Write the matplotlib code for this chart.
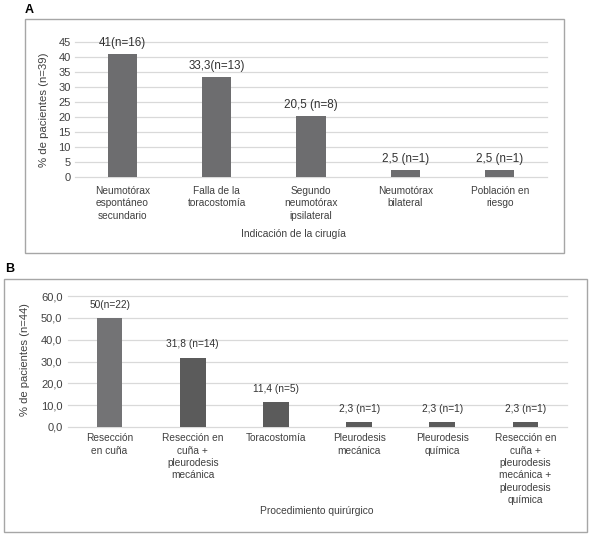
import matplotlib
matplotlib.use("Agg")
import matplotlib.pyplot as plt
from matplotlib.patches import Rectangle

plt.rcParams['font.family'] = ['Liberation Sans', 'DejaVu Sans']

# datos panel A
cats_a = ["Neumotórax\nespontáneo\nsecundario", "Falla de la\ntoracostomía",
          "Segundo\nneumotórax\nipsilateral", "Neumotórax\nbilateral",
          "Población en\nriesgo"]
vals_a = [41, 33.3, 20.5, 2.5, 2.5]
labels_a = ["41(n=16)", "33,3(n=13)", "20,5 (n=8)", "2,5 (n=1)", "2,5 (n=1)"]
yticks_a = [0, 5, 10, 15, 20, 25, 30, 35, 40, 45]

# datos panel B
cats_b = ["Resección\nen cuña", "Resección en\ncuña +\npleurodesis\nmecánica",
          "Toracostomía", "Pleurodesis\nmecánica", "Pleurodesis\nquímica",
          "Resección en\ncuña +\npleurodesis\nmecánica +\npleurodesis\nquímica"]
vals_b = [50, 31.8, 11.4, 2.3, 2.3, 2.3]
labels_b = ["50(n=22)", "31,8 (n=14)", "11,4 (n=5)", "2,3 (n=1)", "2,3 (n=1)", "2,3 (n=1)"]
yticks_b = [0, 10, 20, 30, 40, 50, 60]

W, H = 589, 535
fig = plt.figure(figsize=(W / 100, H / 100), dpi=100)
txt = '#404040'


def px_axes(x0, x1, ytop, ybot):
    return fig.add_axes([x0 / W, (H - ybot) / H, (x1 - x0) / W, (ybot - ytop) / H])


def box(x0, y0, x1, y1):
    fig.patches.append(Rectangle((x0 / W, (H - y1) / H), (x1 - x0) / W, (y1 - y0) / H,
                                 transform=fig.transFigure, fill=False,
                                 edgecolor='#a6a6a6', linewidth=1.0))


def style(ax, cats, yticks, ylab_fmt, xpad, ypad):
    n = len(cats)
    ax.set_xlim(-0.5, n - 0.5)
    ax.set_ylim(yticks[0], yticks[-1])
    ax.set_yticks(yticks)
    ax.set_yticklabels([ylab_fmt(v) for v in yticks], fontsize=8, color=txt)
    ax.set_xticks(range(n))
    ax.set_xticklabels(cats, fontsize=7.3, color=txt, va='top', linespacing=1.3)
    ax.tick_params(axis='x', length=0, pad=xpad)
    ax.tick_params(axis='y', length=0, pad=ypad)
    for s in ax.spines.values():
        s.set_visible(False)
    ax.set_axisbelow(True)
    for v in yticks:
        ax.axhline(v, color='#d9d9d9', linewidth=0.9, zorder=0, clip_on=False)


# ---- panel A
box(25, 19, 564, 253)
fig.text(25 / W, (H - 10) / H, "A", fontsize=9, fontweight='bold', va='center', ha='left')
ax1 = px_axes(75, 547, 42, 177)
ax1.bar(range(len(vals_a)), vals_a, width=0.31, color='#6d6d6f', zorder=2)
style(ax1, cats_a, yticks_a, lambda v: str(v), 6.5, 3)
for i, (v, l) in enumerate(zip(vals_a, labels_a)):
    ax1.annotate(l, (i, v), xytext=(0, 3.5), textcoords='offset points',
                 ha='center', va='bottom', fontsize=8.4, color='#333333')
fig.text(44 / W, (H - 110) / H, "% de pacientes (n=39)", rotation=90, fontsize=8.2,
         color=txt, ha='center', va='center')
fig.text(293 / W, (H - 234) / H, "Indicación de la cirugía", fontsize=7.4,
         color=txt, ha='center', va='center')

# ---- panel B
box(4, 279, 587, 532)
fig.text(5 / W, (H - 269) / H, "B", fontsize=9, fontweight='bold', va='center', ha='left')
ax2 = px_axes(68, 567, 296, 427)
cols_b = ['#737375'] + ['#5b5b5b'] * (len(vals_b) - 1)
ax2.bar(range(len(vals_b)), vals_b, width=0.31, color=cols_b, zorder=2)
style(ax2, cats_b, yticks_b, lambda v: ("%.1f" % v).replace('.', ','), 4.5, 4)
for i, (v, l) in enumerate(zip(vals_b, labels_b)):
    ax2.annotate(l, (i, v), xytext=(0, 6), textcoords='offset points',
                 ha='center', va='bottom', fontsize=7.3, color='#333333')
fig.text(25 / W, (H - 360) / H, "% de pacientes (n=44)", rotation=90, fontsize=8.1,
         color=txt, ha='center', va='center')
fig.text(317 / W, (H - 511) / H, "Procedimiento quirúrgico", fontsize=7.4,
         color=txt, ha='center', va='center')

fig.savefig("out.png", dpi=100)
